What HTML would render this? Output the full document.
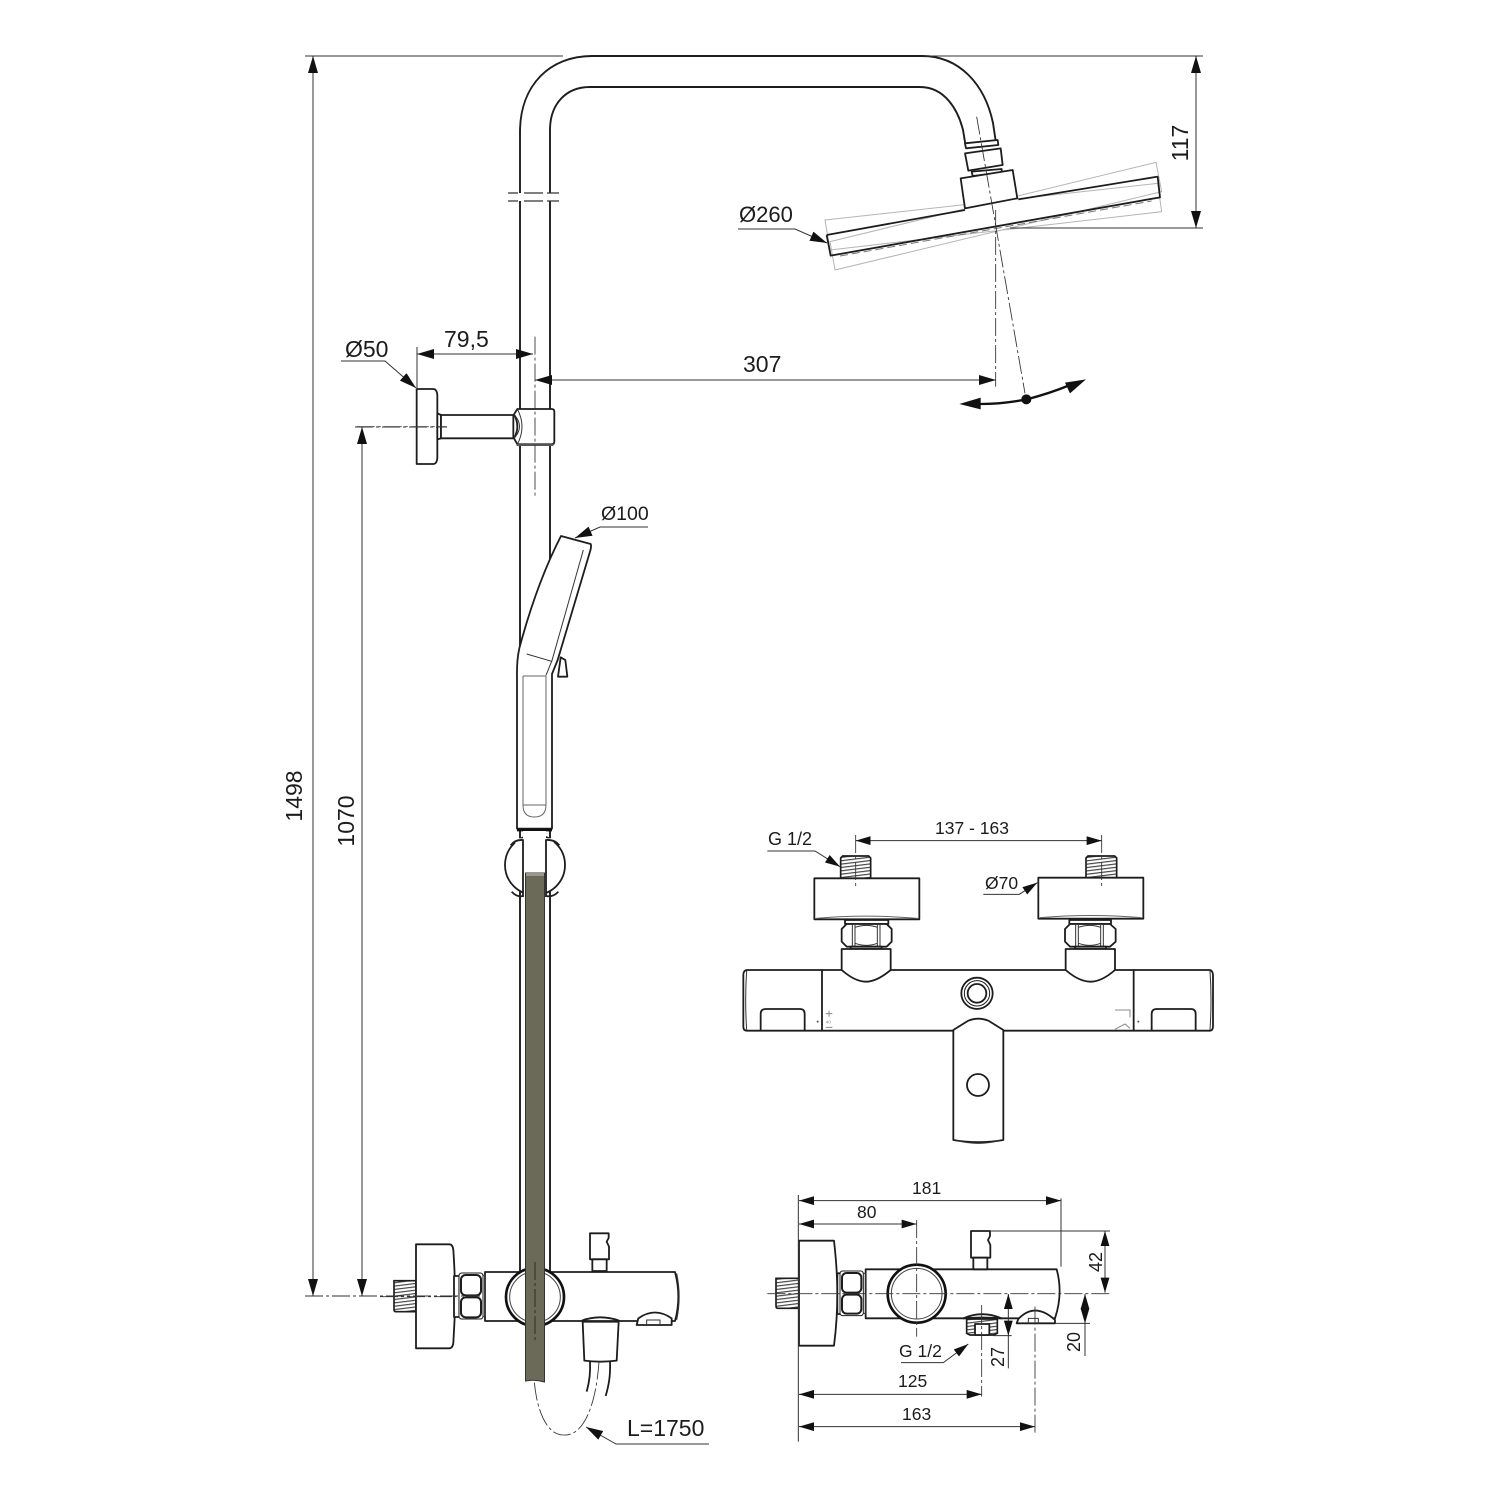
<!DOCTYPE html>
<html><head><meta charset="utf-8"><style>
html,body{margin:0;padding:0;background:#fff}
svg{display:block}
text{font-family:"Liberation Sans",sans-serif;fill:#1c1c1c}
.d{fill:#fff;stroke:#1d1d1d;stroke-width:5.4;stroke-linejoin:round}
.n{fill:none;stroke:#1d1d1d;stroke-width:5.4;stroke-linejoin:round}
.t{fill:none;stroke:#333;stroke-width:3}
.i{fill:none;stroke:#666;stroke-width:3}
.c{fill:none;stroke:#333;stroke-width:2.6;stroke-dasharray:54 9 9 9}
.g{fill:none;stroke:#b5b5b5;stroke-width:3}
.r{fill:none;stroke:#333;stroke-width:1}
.rc{fill:none;stroke:#333;stroke-width:.9;stroke-dasharray:18 3 3 3}
</style></head><body>
<svg width="1500" height="1500" viewBox="0 0 1500 1500" xmlns="http://www.w3.org/2000/svg">
<defs>
<marker id="a" markerUnits="userSpaceOnUse" markerWidth="17" markerHeight="10" viewBox="0 0 17 10" refX="17" refY="5" orient="auto-start-reverse"><path d="M0 0L17 5L0 10Z" fill="#111"/></marker>
<marker id="z" markerUnits="userSpaceOnUse" markerWidth="45" markerHeight="27" viewBox="0 0 17 10" refX="17" refY="5" orient="auto-start-reverse"><path d="M0 0L17 5L0 10Z" fill="#111"/></marker>
<pattern id="h" patternUnits="userSpaceOnUse" width="12" height="10" patternTransform="rotate(-7)"><rect width="12" height="10" fill="#fff"/><rect width="12" height="3.5" fill="#444"/></pattern>
</defs>

<!-- rail -->
<g fill="none" stroke="#1d1d1d" stroke-width="1.9">
<path d="M520 1275V132C520 85 550 56 592 56H922C960 56 985 85 993 123L996 143"/>
<path d="M550 1275V130C550 105 565 87 590 87H920C945 87 958 110 963 130L966 148"/>
</g>
<rect x="512" y="193" width="46" height="8" fill="#fff"/>
<path d="M508 193H518M524 193H543M547 193H559M508 201H518M524 201H543M547 201H559" stroke="#333" stroke-width="1.2"/>

<!-- shower head (zoom 1 coordinates) -->
<g transform="translate(730 40) scale(.33333)">
<path class="g" d="M1278 367L300 605L315 690L1295 455ZM285 540L1283 430L1295 515L300 630Z"/>
<path class="n" d="M290 585L705 510M865 478L1283 410L1290 472L302 647L290 585"/>
<path d="M330 648L1265 483" stroke="#777" stroke-width="3" stroke-dasharray="24 12" fill="none"/>
<path class="d" d="M708 325L805 315L803 300L705 310Z"/>
<path class="d" d="M705 340L812 325L818 375L715 392Z"/>
<path class="d" d="M725 395L815 387V398L728 408Z"/>
<path class="d" d="M692 415L848 390L862 475L705 505Z"/>
<path class="c" d="M740 230L885 1060M797 510V1040"/>
<path d="M750 1092Q820 1092 890 1078Q960 1060 1020 1035" fill="none" stroke="#111" stroke-width="7"/>
<path d="M688 1092L752 1073L752 1108ZM1068 1018L1005 1028L1020 1060Z" fill="#111"/>
<circle cx="889" cy="1078" r="15" fill="#111"/>
</g>

<!-- wall bracket + hand shower (zoom 2 coordinates) -->
<g transform="translate(330 320) scale(.33333)">
<path class="d" d="M260 207H310Q320 207 322 225V415Q320 432 310 432H260Z"/>
<path class="d" d="M322 280L333 285V355L322 358Z"/>
<path class="d" d="M333 285H550V355H333Z"/>
<path class="d" d="M562 267H665Q673 267 673 275V365Q673 373 665 373H562L552 355Q572 320 552 283Z"/>
<path class="t" d="M552 283Q585 320 552 355M562 267Q590 320 562 373"/>
<path d="M560 375H670" stroke="#555" stroke-width="6"/>
<path class="d" d="M693 648L782 672Q785 680 780 695L683 1020L666 1062V1526H561V1070Q560 1020 568 985Q620 790 693 648Z"/>
<path class="t" d="M760 690L665 1025M590 1002L665 1024L648 1066"/>
<path class="i" d="M579 1068H648M579 1068V1455Q579 1491 613 1491Q648 1491 648 1455V1068M579 1455H648"/>
<path d="M561 1530H666" stroke="#111" stroke-width="8"/>
<path class="d" d="M692 1012L706 1020L712 1070H684Z"/>
<path class="c" d="M80 320H350M615 50V535"/>
</g>

<!-- ball holder (zoom 6 coordinates) -->
<g transform="translate(490 800) scale(.33333)">
<circle class="d" cx="135" cy="195" r="90"/>
<rect x="99" y="93" width="69" height="205" fill="#fff"/>
<rect x="76" y="115" width="23" height="20" fill="#fff"/><rect x="168" y="115" width="23" height="20" fill="#fff"/>
<path class="n" d="M99 291V120Q75 118 62 136M168 291V120Q195 118 208 136M65 275Q80 292 99 288M205 275Q190 292 168 288"/>
</g>

<!-- mixer left (zoom 5 coordinates) -->
<g transform="translate(380 1210) scale(.33333)">
<path d="M42 212H108V305H48Q42 305 42 298Z" fill="url(#h)" stroke="#1d1d1d" stroke-width="5"/>
<path class="d" d="M108 103H208Q218 103 220 120Q230 260 220 398Q218 415 208 415H108Z"/>
<path class="d" d="M222 198H238V321H222Z"/>
<path class="d" d="M315 186H885Q905 260 885 333H315Z"/>
<rect x="237" y="189" width="72" height="138" rx="8" class="d" style="stroke-width:3"/>
<rect x="243" y="195" width="60" height="61" rx="14" class="n" style="stroke-width:6"/>
<rect x="243" y="262" width="60" height="60" rx="14" class="n" style="stroke-width:6"/>
<path class="t" d="M309 196H315V320H309"/>
<circle cx="465" cy="261" r="87" fill="#fff" stroke="#111" stroke-width="8"/>
<circle cx="465" cy="261" r="76" fill="none" stroke="#444" stroke-width="3"/>
<path class="d" d="M630 70H686V84L680 95L687 110V148H630Z"/>
<path class="d" d="M637 148H680V183H637Z"/>
<path class="d" d="M770 345L775 325Q825 290 875 325V345Z"/>
<path class="t" d="M800 345V330H840V345"/>
<path class="n" d="M605 332Q660 312 718 332"/>
<path class="d" d="M608 335H716L710 452Q660 458 613 452Z"/>
<path class="n" d="M630 455C632 490 627 520 620 545M690 455C692 500 685 530 677 558"/>
<path class="t" d="M890 190Q905 260 890 330"/>
<path class="c" d="M0 260H230"/>
<path class="c" d="M657 455C650 560 620 680 550 675C500 675 470 600 463 515"/>
</g>

<!-- hose -->
<path d="M525.5 873H544.5V1382Q535 1379 525.5 1381Z" fill="#6b6958" stroke="#333" stroke-width="1"/>
<rect x="526" y="873" width="18" height="3" fill="#9a988a"/>
<path d="M535 1262V1340" stroke="#2e2d22" stroke-width="1" stroke-dasharray="18 3 3 3"/>

<!-- thermostat front (zoom 3 coordinates) -->
<g transform="translate(730 810) scale(.33333)">
<path d="M332 205V144L338 138H416L422 144V205Z" fill="url(#h)" stroke="#1d1d1d" stroke-width="5"/>
<path d="M1068 205V144L1074 138H1154L1160 144V205Z" fill="url(#h)" stroke="#1d1d1d" stroke-width="5"/>
<path class="d" d="M253 205H568V328H253Z"/>
<path class="i" d="M258 325Q410 312 563 325"/>
<path class="d" d="M925 203H1240V326H925Z"/>
<path class="i" d="M930 323Q1080 310 1235 323"/>
<path class="d" d="M345 330H475V342H345Z"/>
<path class="d" d="M335 357L350 342H470L485 357V395L470 410H350L335 395Z"/>
<path class="t" d="M367 345V408M375 345V408M442 345V408M450 345V408M375 352Q410 340 442 352M375 400Q410 412 442 400"/>
<path class="d" d="M362 410H455V417H362Z"/>
<path class="d" d="M1018 330H1143V342H1018Z"/>
<path class="d" d="M1005 357L1020 342H1140L1157 357V395L1140 410H1020L1005 395Z"/>
<path class="t" d="M1037 345V408M1045 345V408M1112 345V408M1120 345V408M1045 352Q1080 340 1112 352M1045 400Q1080 412 1112 400"/>
<path class="d" d="M1035 410H1128V417H1035Z"/>
<path class="d" d="M50 480H1440Q1448 482 1449 495V650Q1448 662 1440 662H50Q40 662 40 650V495Q40 482 50 480Z"/>
<path class="t" d="M50 482Q44 570 50 660M1440 482Q1446 570 1440 660"/>
<path class="n" d="M276 478V662M1211 478V662" stroke-width="7"/>
<path class="d" d="M335 417H482V480Q440 515 408 515Q375 515 335 480Z"/>
<path class="d" d="M1007 417H1155V480Q1115 515 1082 515Q1047 515 1007 480Z"/>
<path d="M92 660V612Q92 597 107 597H210Q224 597 224 612V660" class="n"/>
<path d="M1265 660V612Q1265 597 1280 597H1383Q1397 597 1397 612V660" class="n"/>
<circle cx="741" cy="550" r="47" class="d"/><circle cx="741" cy="550" r="38" class="n" style="stroke-width:3"/><circle cx="741" cy="550" r="28" class="n"/>
<path class="d" d="M670 990V660L715 632Q745 620 775 632L820 660V990Q745 1003 670 990Z"/>
<path class="t" d="M682 992Q745 1008 808 992"/>
<circle class="d" cx="744" cy="825" r="33"/>
<path d="M297 602V620M287 611H307M287 652H307M1155 600H1200V622M1155 658L1185 642L1200 655" stroke="#8a8a8a" stroke-width="3" fill="none"/>
<circle cx="263" cy="635" r="3" fill="#555"/><circle cx="1225" cy="635" r="3" fill="#555"/>
<text x="287" y="641" font-size="14" style="fill:#888">40</text>
<path class="c" d="M377 75V228M1115 75V228"/>
<path class="t" d="M377 92H1115" marker-start="url(#z)" marker-end="url(#z)"/>
<path class="t" d="M112 123H255L330 170" marker-end="url(#z)"/>
<path class="t" d="M760 253H868L922 218" marker-end="url(#z)"/>
</g>

<!-- thermostat side (zoom 4 coordinates) -->
<g transform="translate(760 1170) scale(.33333)">
<path d="M48 325H117V415H54Q48 415 48 408Z" fill="url(#h)" stroke="#1d1d1d" stroke-width="5"/>
<path class="d" d="M117 212H222Q232 300 232 370Q232 450 222 527H117Z"/>
<path class="d" d="M232 310H242V432H232Z"/>
<path class="d" d="M317 298H890Q910 370 885 445H317Z"/>
<rect x="240" y="303" width="70" height="134" rx="8" class="d" style="stroke-width:3"/>
<rect x="246" y="309" width="58" height="59" rx="14" class="n" style="stroke-width:6"/>
<rect x="246" y="374" width="58" height="57" rx="14" class="n" style="stroke-width:6"/>
<path class="t" d="M310 310H317V430H310"/>
<circle cx="470" cy="371" r="87" fill="#fff" stroke="#111" stroke-width="8"/>
<circle cx="470" cy="371" r="76" fill="none" stroke="#444" stroke-width="3"/>
<path class="d" d="M633 183H690V198L684 210L691 225V263H633Z"/>
<path class="d" d="M640 263H682V298H640Z"/>
<path d="M620 447H712V490L700 495H630L620 490Z" fill="url(#h)" stroke="#1d1d1d" stroke-width="5"/>
<rect x="645" y="462" width="43" height="33" class="d"/>
<path class="d" d="M610 445Q665 420 725 445Q665 440 610 445Z"/>
<path class="d" d="M770 460L775 447Q825 395 885 450V460Z"/>
<path class="t" d="M805 460V445H835V460"/>
<path class="c" d="M22 371H1050M470 150V500M665 405V680M825 410V790"/>
<path class="t" d="M115 75V815M903 85V290M690 183H1050M885 460H990M700 497H755M745 497V595M975 460V558"/>
<path class="t" d="M117 92H903" marker-start="url(#z)" marker-end="url(#z)"/>
<path class="t" d="M117 162H470" marker-start="url(#z)" marker-end="url(#z)"/>
<path class="t" d="M1035 183V368" marker-start="url(#z)" marker-end="url(#z)"/>
<path class="t" d="M745 372V497" marker-start="url(#z)" marker-end="url(#z)"/>
<path class="t" d="M975 372V460" marker-start="url(#z)" marker-end="url(#z)"/>
<path class="t" d="M117 673H665" marker-start="url(#z)" marker-end="url(#z)"/>
<path class="t" d="M117 770H825" marker-start="url(#z)" marker-end="url(#z)"/>
<path class="t" d="M423 578H550L625 522" marker-end="url(#z)"/>
</g>

<!-- main dimensions -->
<path class="r" d="M305 56H563M925 56H1203M1010 228H1203"/>
<path class="rc" d="M305 1296H480M355 427H447"/>
<path class="r" d="M313 56V1296" marker-start="url(#a)" marker-end="url(#a)"/>
<path class="r" d="M362 427V1296" marker-end="url(#a)"/>
<path d="M362 427L357 444H367Z" fill="#111"/>
<path class="r" d="M1196 56V228" marker-start="url(#a)" marker-end="url(#a)"/>
<path class="r" d="M535 380H996" marker-start="url(#a)" marker-end="url(#a)"/>
<path class="r" d="M417 354H533" marker-start="url(#a)" marker-end="url(#a)"/>
<path class="r" d="M417 347V388"/>
<path class="r" d="M738 229H795L827 243" marker-end="url(#a)"/>
<path class="r" d="M341 361H385L416 388" marker-end="url(#a)"/>
<path class="r" d="M648 527H600L575 538" marker-end="url(#a)"/>
<path class="r" d="M709 1444H616L586 1427" marker-end="url(#a)"/>

<!-- labels -->
<text x="739" y="222" font-size="22">Ø260</text>
<text x="743" y="372" font-size="23">307</text>
<text x="444" y="347" font-size="23">79,5</text>
<text x="345" y="357" font-size="23">Ø50</text>
<text x="601" y="520" font-size="19.5">Ø100</text>
<text x="627" y="1436" font-size="23">L=1750</text>
<text x="935" y="834" font-size="17.5">137 - 163</text>
<text x="768" y="845" font-size="18">G 1/2</text>
<text x="985" y="889" font-size="17.5">Ø70</text>
<text x="912" y="1194" font-size="17.5">181</text>
<text x="857" y="1218" font-size="17.5">80</text>
<text x="899" y="1357" font-size="17.5">G 1/2</text>
<text x="898" y="1387" font-size="17.5">125</text>
<text x="902" y="1420" font-size="17.5">163</text>
<text transform="translate(302 796) rotate(-90)" text-anchor="middle" font-size="23">1498</text>
<text transform="translate(354 821) rotate(-90)" text-anchor="middle" font-size="23">1070</text>
<text transform="translate(1188 143) rotate(-90)" text-anchor="middle" font-size="23">117</text>
<text transform="translate(1102 1262) rotate(-90)" text-anchor="middle" font-size="18">42</text>
<text transform="translate(1004 1357) rotate(-90)" text-anchor="middle" font-size="18">27</text>
<text transform="translate(1080 1342) rotate(-90)" text-anchor="middle" font-size="18">20</text>
</svg>
</body></html>
